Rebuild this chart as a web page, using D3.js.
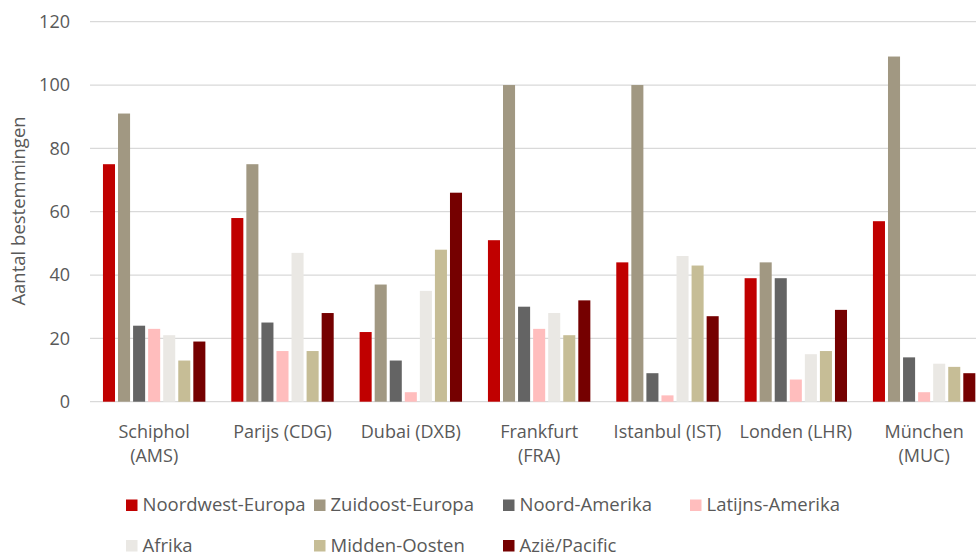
<!DOCTYPE html>
<html>
<head>
<meta charset="utf-8">
<script src="https://cdn.jsdelivr.net/npm/d3@7"></script>
<style>
  html, body { margin: 0; padding: 0; background: #fff; }
  svg { display: block; }
  text { font-family: "Open Sans", sans-serif; fill: #595959; }
</style>
</head>
<body>
<svg id="chart" width="976" height="557"></svg>
<script>
const categories = ["Schiphol (AMS)", "Parijs (CDG)", "Dubai (DXB)", "Frankfurt (FRA)", "Istanbul (IST)", "Londen (LHR)", "München (MUC)"];
const seriesNames = ["Noordwest-Europa", "Zuidoost-Europa", "Noord-Amerika", "Latijns-Amerika", "Afrika", "Midden-Oosten", "Azië/Pacific"];
const seriesColors = ["#C00000", "#A19882", "#646464", "#FFBDBD", "#EAE8E4", "#C6BD96", "#750000"];
const noordwestEuropa = [75, 58, 22, 51, 44, 39, 57];
const zuidoostEuropa  = [91, 75, 37, 100, 100, 44, 109];
const noordAmerika    = [24, 25, 13, 30, 9, 39, 14];
const latijnsAmerika  = [23, 16, 3, 23, 2, 7, 3];
const afrika          = [21, 47, 35, 28, 46, 15, 12];
const middenOosten    = [13, 16, 48, 21, 43, 16, 11];
const aziePacific     = [19, 28, 66, 32, 27, 29, 9];
const yTicks = [0, 20, 40, 60, 80, 100, 120];
const yTitle = "Aantal bestemmingen";

const seriesValues = [noordwestEuropa, zuidoostEuropa, noordAmerika, latijnsAmerika, afrika, middenOosten, aziePacific];

const svg = d3.select("#chart");

const x0 = d3.scaleBand().domain(categories).range([90, 988.3]).padding(0);
const bw = x0.bandwidth();
const x1 = d3.scaleBand().domain(seriesNames).range([bw * 0.101, bw * 0.899]).paddingInner(0.2).paddingOuter(0);
const y = d3.scaleLinear().domain([0, 120]).range([401.7, 21.7]);

// gridlines
svg.append("g")
  .selectAll("line")
  .data(yTicks)
  .join("line")
  .attr("x1", 90).attr("x2", 976)
  .attr("y1", d => y(d)).attr("y2", d => y(d))
  .attr("stroke", "#D9D9D9").attr("stroke-width", 1.3);

// y axis labels
const yAxis = d3.axisLeft(y).tickValues(yTicks).tickSize(0).tickPadding(0);
const yg = svg.append("g").attr("transform", "translate(70,0)").call(yAxis);
yg.select(".domain").remove();
yg.selectAll("text").attr("font-size", 18).attr("fill", "#595959")
  .style("font-family", '"Open Sans", sans-serif');

// y title
svg.append("text")
  .attr("transform", "translate(25,211) rotate(-90)")
  .attr("text-anchor", "middle")
  .attr("font-size", 18.5)
  .text(yTitle);

// bars
const groups = svg.append("g").selectAll("g")
  .data(categories)
  .join("g")
  .attr("transform", d => `translate(${x0(d)},0)`);

groups.selectAll("rect")
  .data((c, ci) => seriesNames.map((s, si) => ({ s, si, v: seriesValues[si][ci] })))
  .join("rect")
  .attr("x", d => x1(d.s))
  .attr("width", x1.bandwidth())
  .attr("y", d => y(d.v))
  .attr("height", d => y(0) - y(d.v))
  .attr("fill", d => seriesColors[d.si]);

// x axis labels (wrapped)
const xAxis = d3.axisBottom(x0).tickSize(0).tickPadding(0);
const xg = svg.append("g").attr("transform", "translate(0,438)").call(xAxis);
xg.select(".domain").remove();
xg.selectAll("text")
  .attr("font-size", 18)
  .attr("fill", "#595959")
  .attr("dy", 0)
  .style("font-family", '"Open Sans", sans-serif')
  .each(function(d) {
    const t = d3.select(this);
    const words = d.split(" ");
    t.text(null);
    let line = [];
    let lineNo = 0;
    let tspan = t.append("tspan").attr("x", 0).attr("y", 0);
    for (const w of words) {
      line.push(w);
      tspan.text(line.join(" "));
      if (tspan.node().getComputedTextLength() > 120 && line.length > 1) {
        line.pop();
        tspan.text(line.join(" "));
        line = [w];
        lineNo++;
        tspan = t.append("tspan").attr("x", 0).attr("y", lineNo * 23.5).text(w);
      }
    }
  });

// legend
const legend = svg.append("g");
const colX = [126, 314, 503, 690];
const rowY = [511, 551.5];
seriesNames.forEach((name, i) => {
  const cx = colX[i % 4];
  const ry = rowY[Math.floor(i / 4)];
  legend.append("rect")
    .attr("x", cx).attr("y", ry - 11.5)
    .attr("width", 11.5).attr("height", 11.5)
    .attr("fill", seriesColors[i]);
  legend.append("text")
    .attr("x", cx + 16.5).attr("y", ry)
    .attr("font-size", 18.5)
    .text(name);
});
</script>
</body>
</html>
